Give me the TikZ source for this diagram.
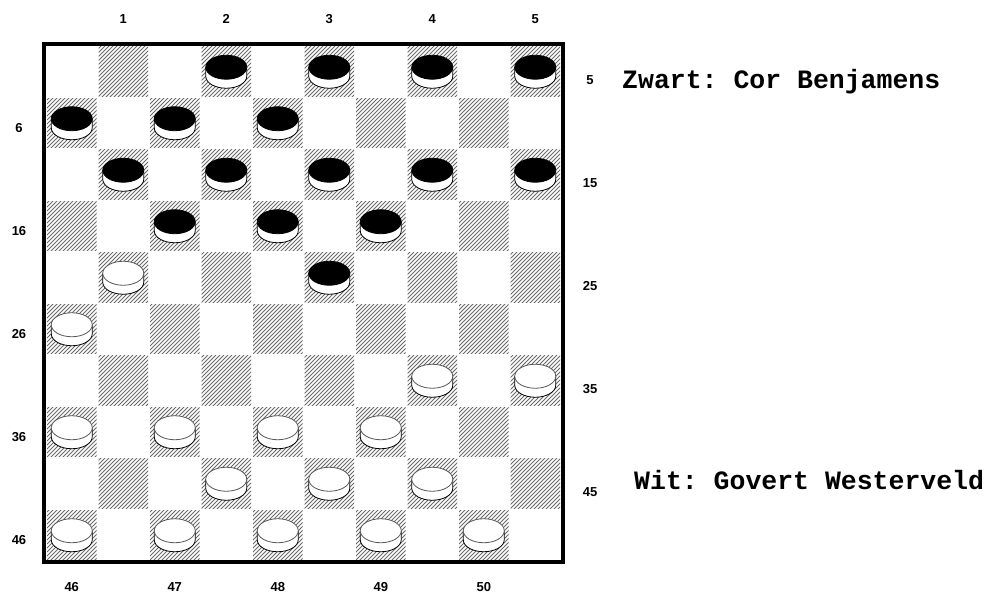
\documentclass[tikz,border=0pt]{standalone}
\usepackage{fontspec}
\newfontfamily\monob{Liberation Mono}
\newfontfamily\labf{Liberation Sans}
\frenchspacing
\tikzset{
  lab/.style={font=\labf\bfseries\fontsize{13}{13}\selectfont, inner sep=0pt},
  player/.style={font=\monob\bfseries\fontsize{26.5}{26.5}\selectfont, inner sep=0pt, anchor=base west},
  hatchline/.style={black!58, line width=0.75pt},
  boardframe/.style={line width=4pt, black},
  pieceside/.style={draw=black, line width=0.8pt, fill=white},
}
\def\sq{51.5}
\def\ox{46}
\def\oy{46}
\newcommand\drawpiece[4]{%
  \pgfmathsetmacro\pcx{\ox+(#1+0.5)*\sq}%
  \pgfmathsetmacro\pcy{\oy+(#2+0.5)*\sq}%
  \draw[pieceside] (\pcx-20.5,\pcy-4.5) -- (\pcx-20.5,\pcy+4.5)
     arc[start angle=180, end angle=0, x radius=20.5, y radius=12]
     -- (\pcx+20.5,\pcy-4.5);
  \draw[draw=#4, line width=0.8pt, fill=#3] (\pcx,\pcy-4.5) ellipse [x radius=20.5, y radius=12];
}
\begin{document}
\begin{tikzpicture}[x=1pt, y=-1pt]
\useasboundingbox (0,0) rectangle (989,593);
\fill[white] (0,0) rectangle (989,593);
% hatched dark squares
\foreach \r in {0,...,9} {
  \foreach \c in {0,...,9} {
    \pgfmathtruncatemacro\odd{mod(\r+\c,2)}
    \ifnum\odd=1
      \begin{scope}
        \clip ({\ox+\c*\sq+1},{\oy+\r*\sq+1}) rectangle ({\ox+(\c+1)*\sq-1},{\oy+(\r+1)*\sq-1});
        \foreach \k in {-14,...,14} {
          \draw[hatchline] ({\ox+\c*\sq+\k*4},{\oy+(\r+1)*\sq}) -- ++(\sq,-\sq);
        }
      \end{scope}
    \fi
  }
}
% frame
\draw[boardframe] (44,44) rectangle (563,562);
% black pieces
\foreach \c/\r in {3/0,5/0,7/0,9/0, 0/1,2/1,4/1, 1/2,3/2,5/2,7/2,9/2, 2/3,4/3,6/3, 5/4} {
  \drawpiece{\c}{\r}{black}{black}
}
% white pieces
\foreach \c/\r in {1/4, 0/5, 7/6,9/6, 0/7,2/7,4/7,6/7, 3/8,5/8,7/8, 0/9,2/9,4/9,6/9,8/9} {
  \drawpiece{\c}{\r}{white}{black!65}
}
% labels
\foreach \n/\c in {1/1,2/3,3/5,4/7,5/9} {
  \node[lab] (top\n) at ({\ox+(\c+0.5)*\sq},19) {\n};
}
\foreach \n/\c in {46/0,47/2,48/4,49/6,50/8} {
  \node[lab] (bot\n) at ({\ox+(\c+0.5)*\sq},587) {\n};
}
\foreach \n/\r in {6/1,16/3,26/5,36/7,46/9} {
  \node[lab] (left\n) at (19,{\oy+(\r+0.5)*\sq+5}) {\n};
}
\foreach \n/\r in {5/0,15/2,25/4,35/6,45/8} {
  \node[lab] (right\n) at (590,{\oy+(\r+0.5)*\sq+8}) {\n};
}
\node[player] (zwart) at (622,89) {Zwart: Cor Benjamens};
\node[player] (wit) at (634,490) {Wit: Govert Westerveld};
\end{tikzpicture}
\end{document}
